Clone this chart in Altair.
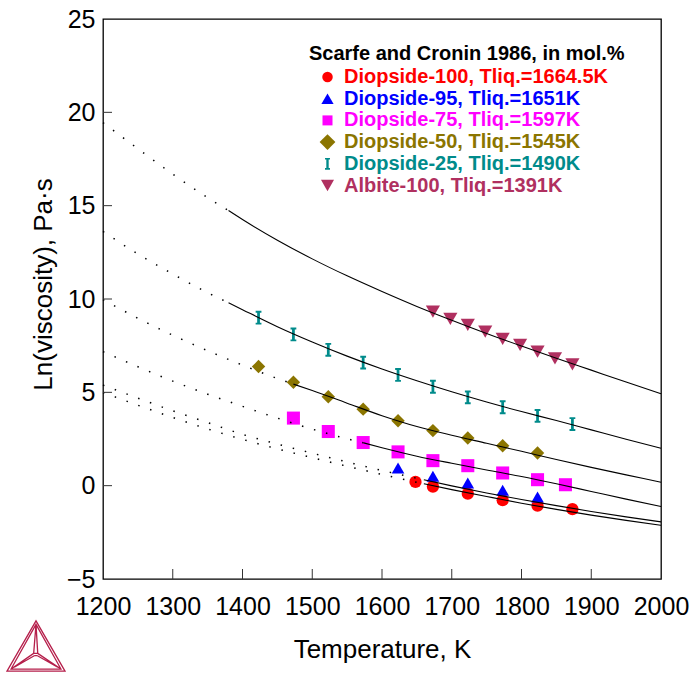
import altair as alt
import pandas as pd

FONT = "Liberation Sans"

# ---- series meta ----
SERIES = ["Diopside-100", "Diopside-95", "Diopside-75", "Diopside-50", "Diopside-25", "Albite-100"]
TLIQ = ["1664.5", "1651", "1597", "1545", "1490", "1391"]
COLORS = ["#FF0000", "#0000FF", "#FF00FF", "#8B7500", "#008B8B", "#B03060"]
IBEAM = ("M-0.42,-1L0.42,-1L0.42,-0.72L0.2,-0.72L0.2,0.72L0.42,0.72L0.42,1L-0.42,1"
         "L-0.42,0.72L-0.2,0.72L-0.2,-0.72L-0.42,-0.72Z")
SHAPES = ["circle", "triangle-up", "square", "diamond", IBEAM, "triangle-down"]
SIZES = [150, 200, 125, 290, 160, 200]

# ---- measured points (Scarfe and Cronin 1986) ----
di100_T = [1648, 1673, 1723, 1773, 1823, 1873]
di100_ln = [0.2, -0.05, -0.43, -0.78, -1.07, -1.26]
di95_T = [1623, 1673, 1723, 1773, 1823]
di95_ln = [0.95, 0.5, 0.14, -0.25, -0.61]
di75_T = [1473, 1523, 1573, 1623, 1673, 1723, 1773, 1823, 1863]
di75_ln = [3.62, 2.9, 2.31, 1.81, 1.34, 1.07, 0.68, 0.32, 0.05]
di50_T = [1423, 1473, 1523, 1573, 1623, 1673, 1723, 1773, 1823]
di50_ln = [6.38, 5.54, 4.76, 4.1, 3.48, 2.95, 2.55, 2.14, 1.75]
di25_T = [1423, 1473, 1523, 1573, 1623, 1673, 1723, 1773, 1823, 1873]
di25_ln = [9.0, 8.1, 7.28, 6.59, 5.93, 5.3, 4.73, 4.2, 3.74, 3.3]
ab100_T = [1673, 1698, 1723, 1748, 1773, 1798, 1823, 1848, 1873]
ab100_ln = [9.32, 8.93, 8.61, 8.25, 7.86, 7.54, 7.18, 6.82, 6.5]

# ---- calculated curves ----
c100_T = [1200, 1250, 1300, 1350, 1400, 1450, 1500, 1550, 1600, 1650, 1660, 1700, 1750, 1800, 1850, 1900, 1950, 2000]
c100_ln = [4.99, 4.31, 3.65, 3.04, 2.48, 1.97, 1.5, 1.04, 0.6, 0.18, 0.1, -0.21, -0.58, -0.94, -1.27, -1.58, -1.86, -2.12]
c95_T = [1200, 1250, 1300, 1350, 1400, 1450, 1500, 1550, 1600, 1650, 1660, 1700, 1750, 1800, 1850, 1900, 1950, 2000]
c95_ln = [5.39, 4.69, 4.01, 3.38, 2.75, 2.23, 1.74, 1.27, 0.81, 0.4, 0.32, -0.01, -0.39, -0.74, -1.07, -1.38, -1.67, -1.94]
c75_T = [1200, 1250, 1300, 1350, 1400, 1450, 1500, 1550, 1573, 1600, 1650, 1700, 1750, 1800, 1850, 1900, 1950, 2000]
c75_ln = [7.18, 6.37, 5.6, 4.9, 4.25, 3.62, 3.03, 2.51, 2.3, 2.03, 1.58, 1.2, 0.84, 0.49, 0.1, -0.31, -0.72, -1.12]
c50_T = [1200, 1250, 1300, 1350, 1400, 1450, 1473, 1500, 1550, 1600, 1650, 1700, 1750, 1800, 1850, 1900, 1950, 2000]
c50_ln = [9.97, 8.97, 8.06, 7.23, 6.46, 5.74, 5.44, 5.1, 4.42, 3.75, 3.17, 2.7, 2.27, 1.84, 1.4, 0.98, 0.58, 0.18]
c25_T = [1200, 1250, 1300, 1350, 1380, 1400, 1450, 1500, 1550, 1600, 1650, 1700, 1750, 1800, 1850, 1900, 1950, 2000]
c25_ln = [13.62, 12.41, 11.34, 10.34, 9.8, 9.43, 8.52, 7.7, 6.94, 6.25, 5.62, 5.03, 4.48, 3.97, 3.49, 2.99, 2.49, 2.0]
cab_T = [1200, 1250, 1300, 1350, 1380, 1400, 1450, 1500, 1550, 1600, 1650, 1700, 1750, 1800, 1850, 1900, 1950, 2000]
cab_ln = [19.45, 18.05, 16.69, 15.43, 14.74, 14.26, 13.15, 12.15, 11.24, 10.4, 9.6, 8.86, 8.15, 7.48, 6.83, 6.19, 5.55, 4.92]
SOLID_FROM = [1660, 1660, 1573, 1473, 1380, 1380]

X_TICKS = [1200, 1300, 1400, 1500, 1600, 1700, 1800, 1900, 2000]
Y_TICKS = [-5, 0, 5, 10, 15, 20, 25]

LEGEND_TITLE = "Scarfe and Cronin 1986, in mol.%"

LOGO = ("M0,-0.9L-1,0.83L1,0.83Z"
        "M0,-0.78L-0.86,0.76L0.86,0.76Z"
        "M0,-0.78L-0.08,0.22M0,-0.78L0.06,0.22"
        "M-0.86,0.76L-0.08,0.22M0.86,0.76L0.06,0.22"
        "M-0.08,0.22L0.06,0.22"
        "M-0.75,0.7L-0.06,0.3M0.75,0.7L0.05,0.3M-0.06,0.3L0.05,0.3")

# ---- build tables ----
pts = []
for name, T, ln in [(SERIES[0], di100_T, di100_ln), (SERIES[1], di95_T, di95_ln),
                    (SERIES[2], di75_T, di75_ln), (SERIES[3], di50_T, di50_ln),
                    (SERIES[4], di25_T, di25_ln), (SERIES[5], ab100_T, ab100_ln)]:
    for t, v in zip(T, ln):
        pts.append({"T": t, "ln": v, "series": name})
pts = pd.DataFrame(pts)

dot_rows, sol_rows = [], []
for name, T, ln, ts in [(SERIES[0], c100_T, c100_ln, SOLID_FROM[0]),
                        (SERIES[1], c95_T, c95_ln, SOLID_FROM[1]),
                        (SERIES[2], c75_T, c75_ln, SOLID_FROM[2]),
                        (SERIES[3], c50_T, c50_ln, SOLID_FROM[3]),
                        (SERIES[4], c25_T, c25_ln, SOLID_FROM[4]),
                        (SERIES[5], cab_T, cab_ln, SOLID_FROM[5])]:
    for t, v in zip(T, ln):
        if t <= ts:
            dot_rows.append({"T": t, "ln": v, "curve": name})
        if t >= ts:
            sol_rows.append({"T": t, "ln": v, "curve": name})
dots = pd.DataFrame(dot_rows)
sols = pd.DataFrame(sol_rows)

leg = pd.DataFrame({
    "label": [f"{s}, Tliq.={t}K" for s, t in zip(SERIES, TLIQ)],
    "color": COLORS, "shape": SHAPES, "size": [110, 150, 100, 250, 140, 170],
    "row": list(range(len(SERIES))),
})

xs = alt.Scale(domain=[1200, 2000], nice=False, zero=False)
ys = alt.Scale(domain=[-5, 25], nice=False, zero=False)

x_axis = alt.Axis(values=X_TICKS, format="d", labelFontSize=25, labelFont=FONT, labelColor="black",
                  ticks=False, tickSize=0, domain=False, grid=False, labelPadding=15,
                  labelFlush=False, labelOverlap=False, title="Temperature, K",
                  titleFontSize=26, titleFont=FONT, titleFontWeight="normal", titleColor="black",
                  titleY=78, titleBaseline="alphabetic")
y_axis = alt.Axis(values=Y_TICKS, format="d", labelFontSize=25, labelFont=FONT, labelColor="black",
                  ticks=False, tickSize=0, domain=False, grid=False, labelPadding=8,
                  labelFlush=False, labelOverlap=False, title="Ln(viscosity), Pa·s",
                  titleFontSize=26, titleFont=FONT, titleFontWeight="normal", titleColor="black",
                  titleX=-52, titleY=265, titleBaseline="alphabetic")

points = alt.Chart(pts).mark_point(filled=True, opacity=1, strokeWidth=0).encode(
    x=alt.X("T:Q", scale=xs, axis=x_axis),
    y=alt.Y("ln:Q", scale=ys, axis=y_axis),
    color=alt.Color("series:N", scale=alt.Scale(domain=SERIES, range=COLORS), legend=None),
    shape=alt.Shape("series:N", scale=alt.Scale(domain=SERIES, range=SHAPES), legend=None),
    size=alt.Size("series:N", scale=alt.Scale(domain=SERIES, range=SIZES), legend=None),
)

dotted = alt.Chart(dots).mark_line(color="black", strokeWidth=1.5, strokeDash=[1.5, 11],
                                   interpolate="monotone").encode(
    x=alt.X("T:Q", scale=xs), y=alt.Y("ln:Q", scale=ys), detail="curve:N")
solid = alt.Chart(sols).mark_line(color="black", strokeWidth=1.1, interpolate="monotone").encode(
    x=alt.X("T:Q", scale=xs), y=alt.Y("ln:Q", scale=ys), detail="curve:N")

xt = alt.Chart(pd.DataFrame({"v": X_TICKS[1:-1]})).mark_rule(color="#333", strokeWidth=1).encode(
    x=alt.X("v:Q", scale=xs), y=alt.value(560), y2=alt.value(550))
yt = alt.Chart(pd.DataFrame({"v": Y_TICKS[1:-1]})).mark_rule(color="#333", strokeWidth=1).encode(
    y=alt.Y("v:Q", scale=ys), x=alt.value(0), x2=alt.value(9))

leg_title = alt.Chart(pd.DataFrame({"t": [LEGEND_TITLE]})).mark_text(
    align="left", baseline="middle", font=FONT, fontSize=20, fontWeight="bold", color="black").encode(
    text="t:N", x=alt.value(206), y=alt.value(35))

leg_base = alt.Chart(leg).transform_calculate(ly="58 + datum.row * 21.7")
leg_marks = leg_base.mark_point(filled=True, opacity=1, strokeWidth=0).encode(
    x=alt.value(224.5), y=alt.Y("ly:Q", scale=None, axis=None),
    color=alt.Color("color:N", scale=None, legend=None),
    shape=alt.Shape("shape:N", scale=None, legend=None),
    size=alt.Size("size:Q", scale=None, legend=None))
leg_text = leg_base.mark_text(align="left", baseline="middle", font=FONT, fontSize=20,
                              fontWeight="bold").encode(
    x=alt.value(241), y=alt.Y("ly:Q", scale=None, axis=None),
    text="label:N", color=alt.Color("color:N", scale=None, legend=None))

logo = alt.Chart(pd.DataFrame({"k": [0]})).mark_point(
    shape=LOGO, size=3364, filled=False, stroke="#B51F4B", strokeWidth=1.3, opacity=1).encode(
    x=alt.value(-67), y=alt.value(628))

chart = alt.layer(points, dotted, solid, xt, yt, leg_title, leg_marks, leg_text, logo).properties(
    width=558, height=560,
    padding={"left": 103, "top": 19, "right": 31, "bottom": 94},
    autosize=alt.AutoSizeParams(type="none"),
    background="white",
).configure_view(stroke="black", strokeWidth=1.3)

chart.save("out.html", embed_options={"renderer": "svg", "actions": False})
